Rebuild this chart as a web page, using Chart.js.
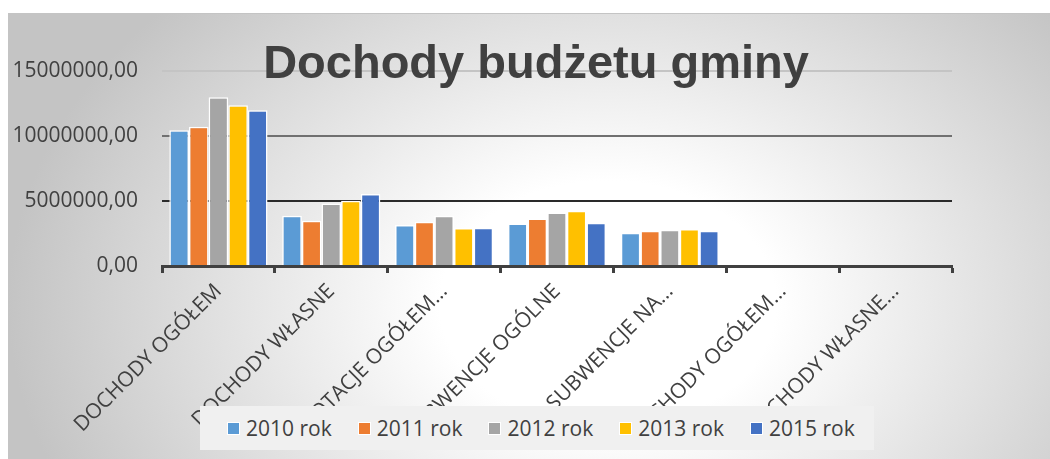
<!DOCTYPE html>
<html>
<head>
<meta charset="utf-8">
<script src="https://cdn.jsdelivr.net/npm/chart.js@4/dist/chart.umd.min.js"></script>
<style>
  body { margin: 0; background: #fff; width: 1050px; height: 459px; overflow: hidden; position: relative; }
  #box {
    position: absolute; left: 8px; top: 13px; width: 1042px; height: 446px;
    background: radial-gradient(ellipse 600px 440px at 600px 290px, #ffffff 0%, #ffffff 28%, #c4c4c4 100%);
    border-top: 1px solid #c4c4c4; box-sizing: border-box;
  }
  #chart { position: absolute; left: 0; top: 0; }
  #title {
    position: absolute; left: 528px; top: 24px; transform: translateX(-50%);
    font: bold 47px "Liberation Sans", Arial, sans-serif; line-height: 47px;
    color: #404040; white-space: nowrap;
  }
  #legend {
    position: absolute; left: 192px; top: 392px; width: 674px; height: 44px;
    background: #f0f0f0; display: flex; align-items: center; padding-left: 27px; box-sizing: border-box;
    font: 21px "Open Sans", sans-serif; color: #404040; white-space: nowrap;
  }
  #legend span.item { display: flex; align-items: center; margin-right: 26px; flex-shrink: 0; white-space: nowrap; }
  #legend span.mark { width: 13px; height: 13px; margin-right: 6px; border: 1px solid #fff; box-sizing: border-box; flex-shrink: 0; }
</style>
</head>
<body>
<div id="box">
  <canvas id="chart" width="1042" height="446"></canvas>
  <div id="title"></div>
  <div id="legend"></div>
</div>
<script>
// dane wykresu
const chartTitle = 'Dochody budżetu gminy';
const categories = ['DOCHODY OGÓŁEM', 'DOCHODY WŁASNE', 'DOTACJE OGÓŁEM…', 'SUBWENCJE OGÓLNE', 'SUBWENCJE NA…', 'DOCHODY OGÓŁEM…', 'DOCHODY WŁASNE…'];
const years = ['2010 rok', '2011 rok', '2012 rok', '2013 rok', '2015 rok'];
const colors = ['#5B9BD5', '#ED7D31', '#A5A5A5', '#FFC000', '#4472C4'];
const rok2010 = [10450000, 3860000, 3150000, 3270000, 2560000, 0, 0];
const rok2011 = [10720000, 3480000, 3400000, 3660000, 2710000, 0, 0];
const rok2012 = [12980000, 4810000, 3860000, 4120000, 2780000, 0, 0];
const rok2013 = [12370000, 5020000, 2920000, 4250000, 2840000, 0, 0];
const rok2015 = [11980000, 5530000, 2940000, 3330000, 2710000, 0, 0];
const yTicks = [0, 5000000, 10000000, 15000000];
const gridColors = ['#404040', '#2a2a2a', '#707070', '#c4c4c4'];

const series = [rok2010, rok2011, rok2012, rok2013, rok2015];

document.getElementById('title').innerText = chartTitle;

// legenda w HTML
const legend = document.getElementById('legend');
years.forEach((y, i) => {
    const item = document.createElement('span');
    item.className = 'item';
    const mark = document.createElement('span');
    mark.className = 'mark';
    mark.style.background = colors[i];
    item.appendChild(mark);
    item.appendChild(document.createTextNode(y));
    legend.appendChild(item);
});

const ctx = document.getElementById('chart');
new Chart(ctx, {
    type: 'bar',
    data: {
        labels: categories,
        datasets: series.map((data, i) => ({
            label: years[i],
            data: data,
            backgroundColor: colors[i],
            borderColor: '#ffffff',
            borderWidth: 1.5,
            categoryPercentage: 0.87,
            barPercentage: 1
        }))
    },
    options: {
        responsive: false,
        animation: false,
        layout: { padding: { top: 57, right: 98, left: 0, bottom: 0 } },
        plugins: {
            legend: { display: false },
            title: { display: false },
            tooltip: { enabled: false }
        },
        scales: {
            x: {
                grid: { display: true, drawOnChartArea: false, drawTicks: true, tickLength: 7, tickWidth: 3, tickColor: '#404040', offset: true },
                border: { color: '#404040', width: 3 },
                ticks: { autoSkip: false, minRotation: 45, maxRotation: 45, padding: 6, color: '#404040', font: { family: 'Open Sans', size: 21 } },
                afterFit: (s) => { s.height = 194; }
            },
            y: {
                min: 0,
                max: 15000000,
                afterBuildTicks: (s) => { s.ticks = yTicks.map(v => ({ value: v })); },
                ticks: {
                    padding: 24,
                    color: '#404040',
                    font: { family: 'Open Sans', size: 21 },
                    callback: (v) => v.toFixed(2).replace('.', ',')
                },
                grid: {
                    drawTicks: false,
                    lineWidth: 2,
                    color: (c) => gridColors[yTicks.indexOf(c.tick.value)] || '#808080'
                },
                border: { display: false },
                afterFit: (s) => { s.width = 154; }
            }
        }
    }
});
</script>
</body>
</html>
